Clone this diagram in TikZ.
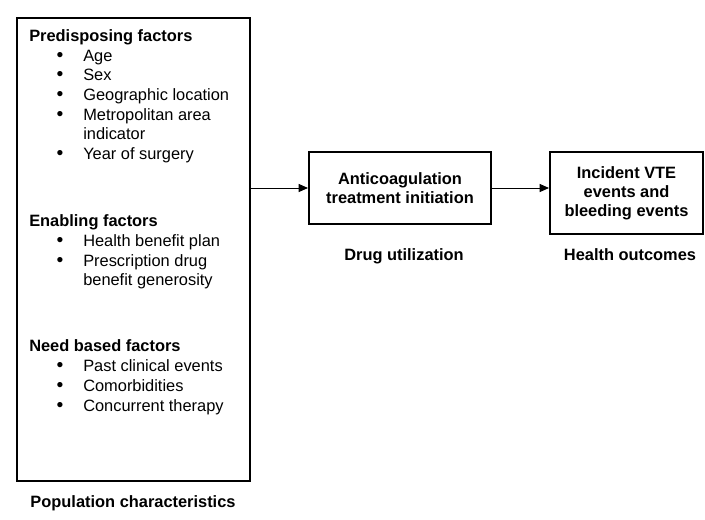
\documentclass[tikz,border=0pt]{standalone}
\usepackage{fontspec}
\setmainfont{Liberation Sans}
\usetikzlibrary{positioning, arrows.meta}

\begin{document}
\begin{tikzpicture}[x=0.75pt, y=-0.75pt,
    box/.style={draw, line width=1.5pt, inner sep=0pt, align=center,
      font=\fontsize{12.3}{14.4}\selectfont\bfseries},
    head/.style={anchor=base west, inner sep=0pt, font=\fontsize{12.3}{14}\selectfont\bfseries},
    itm/.style={anchor=base west, inner sep=0pt, font=\fontsize{12.3}{14}\selectfont},
    bul/.style={anchor=base, inner sep=0pt, yshift=-0.6pt, text height=6pt, text depth=0pt,
      font=\fontsize{14.5}{14.5}\selectfont},
    lbl/.style={anchor=base, inner sep=0pt, font=\fontsize{12.3}{14}\selectfont\bfseries},
    link/.style={line width=0.75pt, -{Triangle[length=7pt, width=6pt]}}]
    \useasboundingbox (0,0) rectangle (705,519);

    % Boxes
    \node[box, minimum width=174.75pt, minimum height=347.25pt] (pop) at (133.5,249.5) {};
    \node[box, minimum width=136.5pt, minimum height=54pt] (drug) at (400,188)
      {Anticoagulation\\treatment initiation};
    \node[box, minimum width=114.75pt, minimum height=61.5pt] (out) at (626.5,193)
      {Incident VTE\\events and\\bleeding events};

    % Predisposing
    \node[head] (pre) at (29,41) {Predisposing factors};
    \node[itm] (age) at (83,61) {Age};
    \node[itm] (sex) at (83,80) {Sex};
    \node[itm] (geo) at (83,100) {Geographic location};
    \node[itm] (metro) at (83,120) {Metropolitan area};
    \node[itm] (metrob) at (83,139) {indicator};
    \node[itm] (year) at (83,159) {Year of surgery};

    % Enabling
    \node[head] (ena) at (29,226) {Enabling factors};
    \node[itm] (plan) at (83,246) {Health benefit plan};
    \node[itm] (presc) at (83,266) {Prescription drug};
    \node[itm] (prescb) at (83,285) {benefit generosity};

    % Need based
    \node[head] (need) at (29,351) {Need based factors};
    \node[itm] (past) at (83,371) {Past clinical events};
    \node[itm] (comor) at (83,391) {Comorbidities};
    \node[itm] (conc) at (83,411) {Concurrent therapy};

    % Bullets
    \foreach \y in {61,80,100,120,159,246,266,371,391,411}
      \node[bul] at (60,\y) {•};

    % Labels
    \node[lbl] (poplbl) at (133,507) {Population characteristics};
    \node[lbl] (druglbl) at (404,260) {Drug utilization};
    \node[lbl] (outlbl) at (630,260) {Health outcomes};

    % Arrows
    \draw[link] (pop.east |- drug.west) -- (drug.west);
    \draw[link] (drug.east) -- (drug.east -| out.west);
  \end{tikzpicture}
\end{document}
